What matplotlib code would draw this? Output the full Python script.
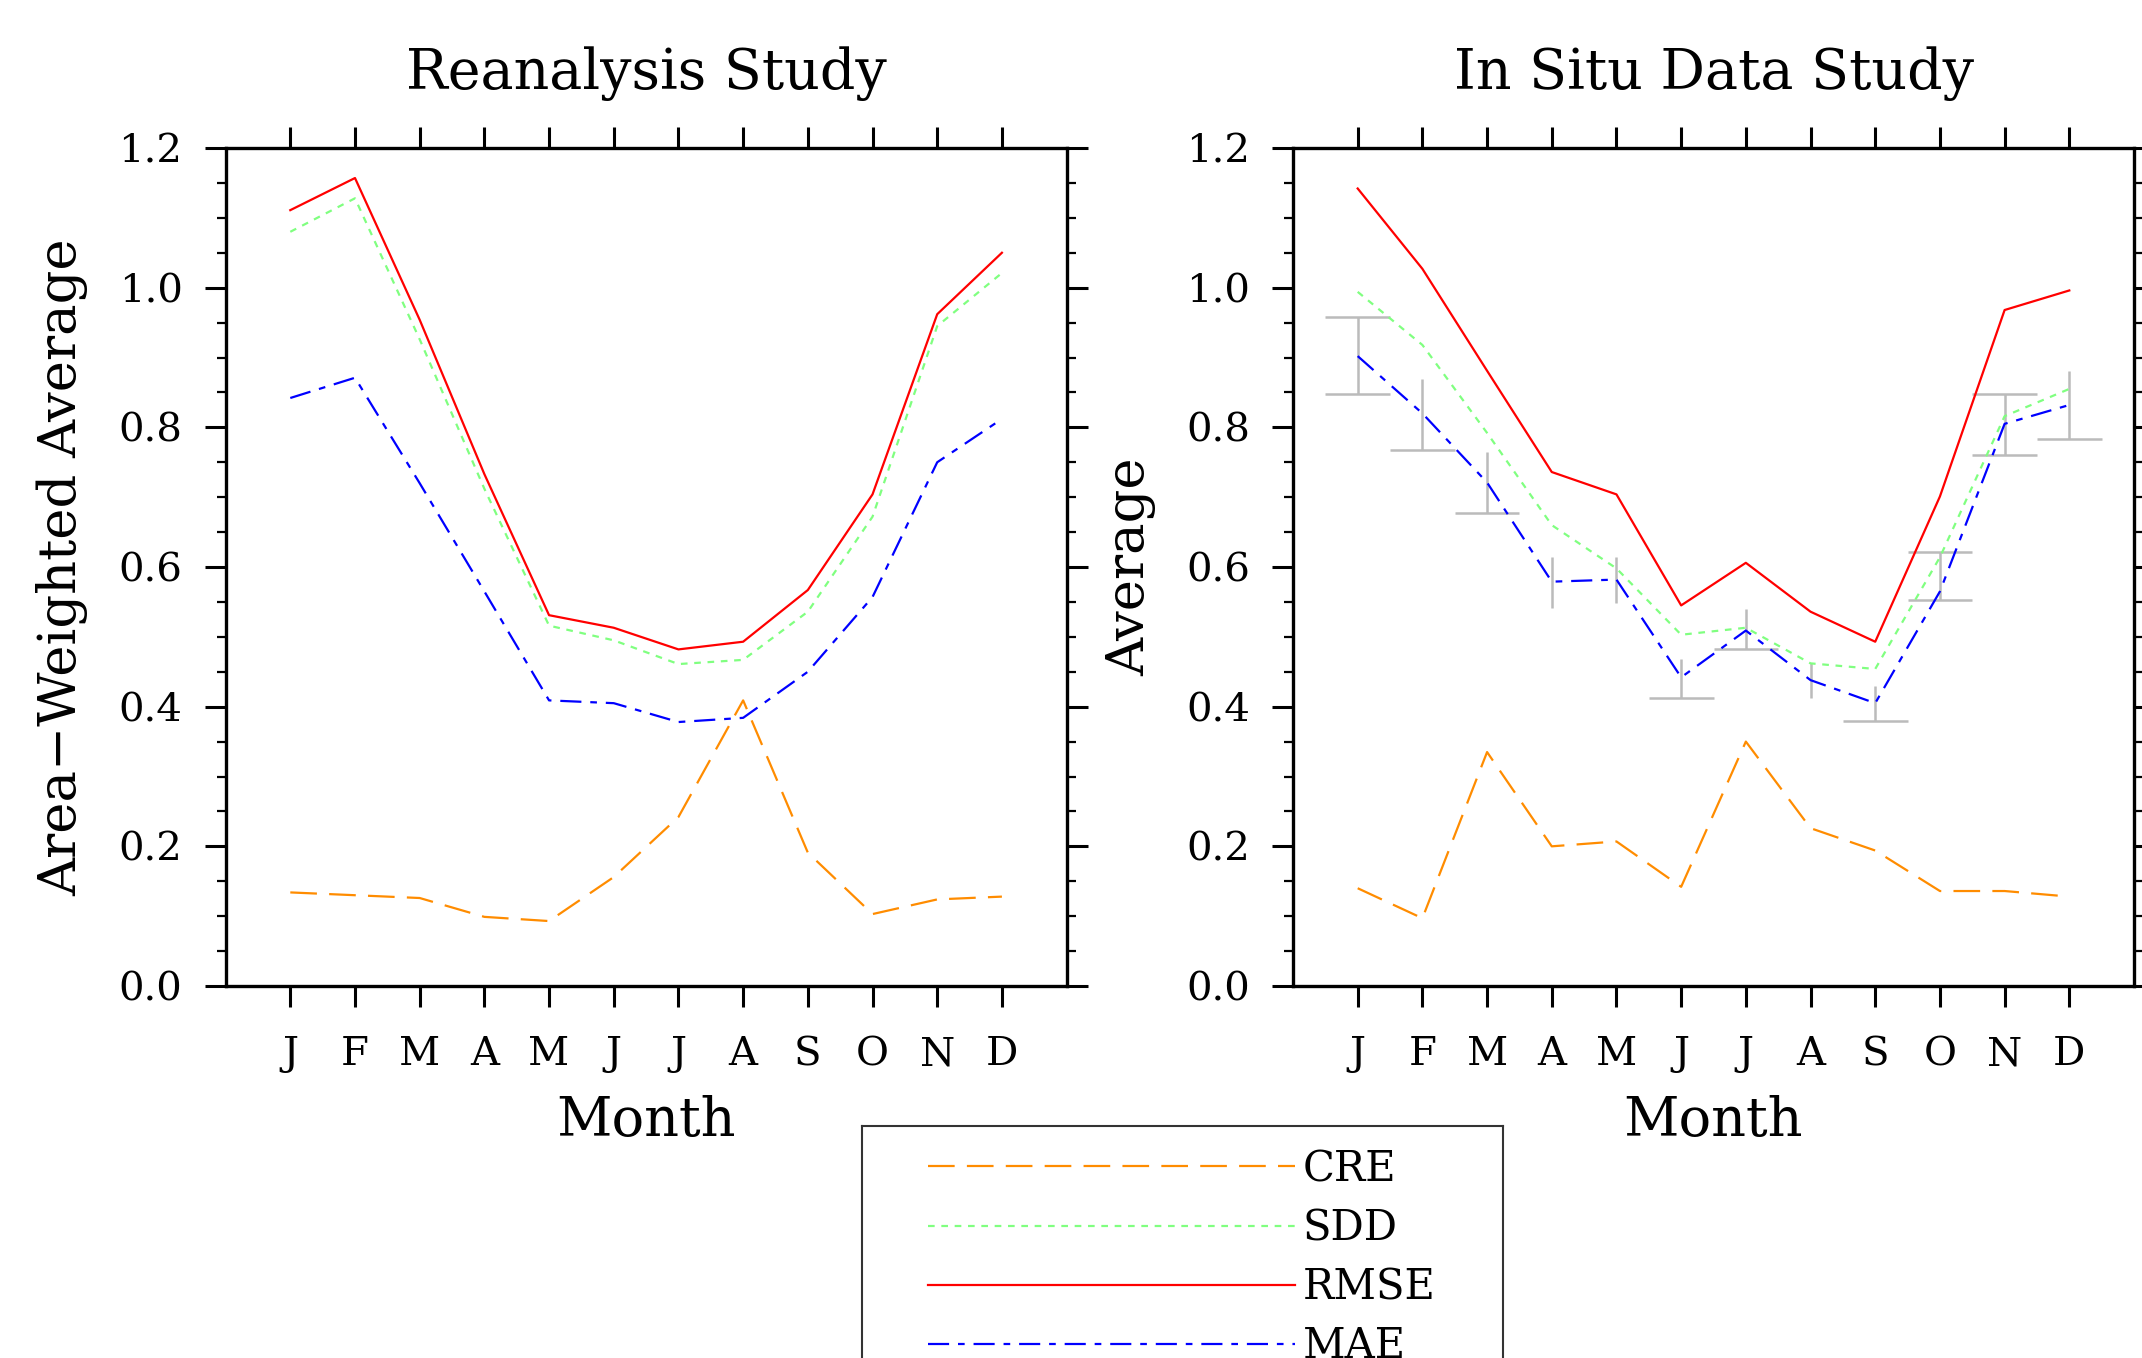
import matplotlib
import matplotlib.pyplot as plt
from matplotlib.ticker import MultipleLocator

matplotlib.use("Agg")

plt.rcParams["font.family"] = ["DejaVu Serif"]

# Months on the x axis
months = ["J", "F", "M", "A", "M", "J", "J", "A", "S", "O", "N", "D"]
month_idx = list(range(1, 13))

# Reanalysis study
rean_cre = [0.134, 0.130, 0.126, 0.099, 0.093, 0.156, 0.242, 0.409, 0.191, 0.103, 0.124, 0.128]
rean_sdd = [1.080, 1.128, 0.926, 0.712, 0.516, 0.495, 0.461, 0.467, 0.536, 0.672, 0.945, 1.021]
rean_rmse = [1.111, 1.157, 0.954, 0.733, 0.531, 0.513, 0.482, 0.493, 0.567, 0.704, 0.962, 1.050]
rean_mae = [0.842, 0.871, 0.720, 0.565, 0.409, 0.405, 0.378, 0.384, 0.450, 0.557, 0.750, 0.812]

# In situ data study
insitu_cre = [0.140, 0.097, 0.335, 0.200, 0.207, 0.142, 0.350, 0.226, 0.194, 0.136, 0.136, 0.128]
insitu_sdd = [0.994, 0.918, 0.792, 0.660, 0.598, 0.503, 0.513, 0.462, 0.454, 0.614, 0.816, 0.855]
insitu_rmse = [1.142, 1.027, 0.881, 0.736, 0.704, 0.545, 0.606, 0.536, 0.493, 0.701, 0.968, 0.996]
insitu_mae = [0.902, 0.820, 0.721, 0.579, 0.582, 0.442, 0.509, 0.438, 0.405, 0.565, 0.805, 0.832]

# Gray error bars on the in situ panel
err_top = [0.958, 0.869, 0.764, 0.614, 0.614, 0.468, 0.540, 0.462, 0.430, 0.621, 0.848, 0.880]
err_bot = [0.848, 0.768, 0.678, 0.542, 0.549, 0.413, 0.483, 0.412, 0.379, 0.553, 0.760, 0.783]
cap_top = [True, False, False, False, False, False, False, False, False, True, True, False]
cap_bot = [True, True, True, False, False, True, True, False, True, True, True, True]

W, H = 2142, 1358
TICK_FS = 29
LABEL_FS = 38


def style_axes(ax):
    ax.set_xlim(0, 13)
    ax.set_ylim(0, 1.2)
    ax.set_xticks(month_idx)
    ax.set_xticklabels(months)
    ax.yaxis.set_major_locator(MultipleLocator(0.2))
    ax.yaxis.set_minor_locator(MultipleLocator(0.05))
    ax.yaxis.set_major_formatter(matplotlib.ticker.FormatStrFormatter("%.1f"))
    ax.tick_params(axis="both", which="major", direction="out", length=15, width=2.2,
                   labelsize=TICK_FS, top=True, right=True)
    ax.tick_params(axis="x", which="major", pad=21)
    ax.tick_params(axis="y", which="major", pad=16)
    ax.tick_params(axis="y", which="minor", direction="out", length=6.5, width=1.6,
                   left=True, right=True)
    ax.tick_params(axis="x", which="minor", bottom=False, top=False)
    for sp in ax.spines.values():
        sp.set_linewidth(2.4)
    ax.set_xlabel("Month", fontsize=39, va="center")
    ax.xaxis.set_label_coords(0.5, (986 - 1121) / 838)


def draw_series(ax, cre, sdd, rmse, mae):
    l_cre, = ax.plot(month_idx, cre, color="#ff8c00", lw=1.6, dashes=(12, 5.5), label="CRE", zorder=3)
    l_sdd, = ax.plot(month_idx, sdd, color="#80ff80", lw=1.6, dashes=(3, 3), label="SDD", zorder=3)
    l_rmse, = ax.plot(month_idx, rmse, color="#ff0000", lw=1.6, label="RMSE", zorder=3)
    l_mae, = ax.plot(month_idx, mae, color="#0000ff", lw=1.6, dashes=(9.5, 4, 3, 4), label="MAE", zorder=3)
    return [l_cre, l_sdd, l_rmse, l_mae]


fig = plt.figure(figsize=(W / 100, H / 100), dpi=100)

ax1 = fig.add_axes([225.6 / W, 1 - 986 / H, 841 / W, 838 / H])
ax2 = fig.add_axes([1293 / W, 1 - 986 / H, 841 / W, 838 / H])

draw_series(ax1, rean_cre, rean_sdd, rean_rmse, rean_mae)
style_axes(ax1)
ax1.set_title("Reanalysis Study", fontsize=40, y=(986 - 82) / 838, va="center")
ax1.set_ylabel("Area\u2212Weighted Average", fontsize=LABEL_FS)
ax1.yaxis.label.set_va("center")
ax1.yaxis.set_label_coords((62 - 225.6) / 841, 0.5)

# error bars under the lines
ax2.vlines(month_idx, err_bot, err_top, color="#bbbbbb", lw=1.8, zorder=2)
for m, lo, hi, ct, cb in zip(month_idx, err_bot, err_top, cap_top, cap_bot):
    if ct:
        ax2.hlines(hi, m - 0.5, m + 0.5, color="#bbbbbb", lw=1.8, zorder=2)
    if cb:
        ax2.hlines(lo, m - 0.5, m + 0.5, color="#bbbbbb", lw=1.8, zorder=2)
handles = draw_series(ax2, insitu_cre, insitu_sdd, insitu_rmse, insitu_mae)
style_axes(ax2)
ax2.set_title("In Situ Data Study", fontsize=40, y=(986 - 82) / 838, va="center")
ax2.set_ylabel("Average", fontsize=LABEL_FS)
ax2.yaxis.label.set_va("center")
ax2.yaxis.set_label_coords((1131 - 1293) / 841, 0.5)

# Legend box, cut off at the bottom of the figure like the original
leg_h = H - 1126
lax = fig.add_axes([862 / W, 0, 641 / W, leg_h / H])
lax.set_xticks([])
lax.set_yticks([])
lax.patch.set_alpha(0)
lax.spines["bottom"].set_visible(False)
for s in ("left", "right", "top"):
    lax.spines[s].set_linewidth(1.5)
    lax.spines[s].set_color("#333333")
lax.legend(handles=handles, loc="upper left", bbox_to_anchor=((928 - 862) / 641, 1 - (1148 - 1126) / leg_h),
           frameon=False, fontsize=30, handlelength=8.8, handletextpad=0.2, labelspacing=0.41,
           borderpad=0, borderaxespad=0)

fig.savefig("out.png", dpi=100)
